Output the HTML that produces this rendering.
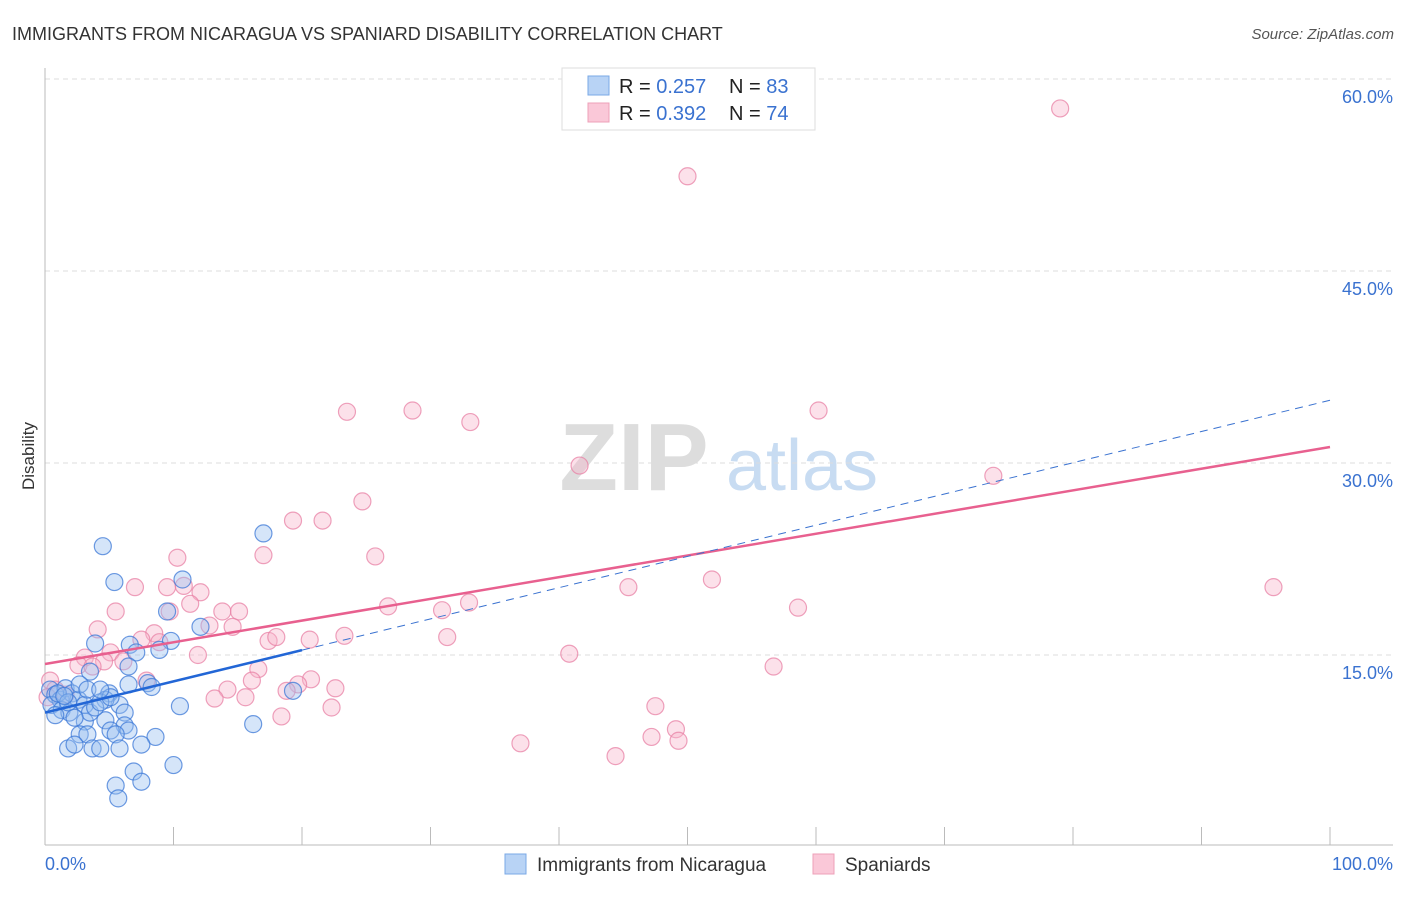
<!DOCTYPE html>
<html><head><meta charset="utf-8">
<style>
body{margin:0;background:#fff;font-family:"Liberation Sans",sans-serif;}
svg text{font-family:"Liberation Sans",sans-serif;}
</style></head>
<body>
<svg id="chart" width="1406" height="892" xmlns="http://www.w3.org/2000/svg">
<text x="12" y="40" font-size="18" fill="#333">IMMIGRANTS FROM NICARAGUA VS SPANIARD DISABILITY CORRELATION CHART</text>
<text x="1394" y="39" font-size="15" fill="#555" font-style="italic" text-anchor="end">Source: ZipAtlas.com</text>
<text x="34" y="456" font-size="17" fill="#333" text-anchor="middle" transform="rotate(-90 34 456)">Disability</text>
<g>
<text x="634" y="490" font-size="96" fill="#ddd" font-family="Liberation Serif" text-anchor="middle" font-weight="bold">ZIP</text>
<text x="802" y="490" font-size="72" fill="#c8dcf2" text-anchor="middle">atlas</text>
</g>
<g id="grid"></g>
<g id="axes"></g>
<g id="points"></g>
<g id="lines"></g>
<g>
<rect x="562" y="68" width="253" height="62" fill="#fff" stroke="#ddd"/>
<rect x="588" y="76" width="21" height="19" fill="#b8d3f5" stroke="#7aa8e6"/>
<rect x="588" y="103" width="21" height="19" fill="#fac8d8" stroke="#eea0b8"/>
<text x="619" y="93" font-size="20" fill="#222">R = <tspan fill="#3a72d0">0.257</tspan></text>
<text x="729" y="93" font-size="20" fill="#222">N = <tspan fill="#3a72d0">83</tspan></text>
<text x="619" y="120" font-size="20" fill="#222">R = <tspan fill="#3a72d0">0.392</tspan></text>
<text x="729" y="120" font-size="20" fill="#222">N = <tspan fill="#3a72d0">74</tspan></text>
</g>
<g>
<rect x="505" y="854" width="21" height="20" fill="#b8d3f5" stroke="#7aa8e6"/>
<text x="537" y="871" font-size="19" fill="#333">Immigrants from Nicaragua</text>
<rect x="813" y="854" width="21" height="20" fill="#fac8d8" stroke="#eea0b8"/>
<text x="845" y="871" font-size="19" fill="#333">Spaniards</text>
</g>
</svg>
<script>
const yTicks=[15,30,45,60];
const xTickCount=10;
const blueX=[4.5,5.4,17.0,10.7,9.5,12.1,3.9,6.6,9.8,8.9,7.1,6.5,3.5,8.0,8.3,6.5,19.3,5.0,10.5,5.8,4.7,6.2,16.2,3.1,4.7,6.2,6.5,5.1,2.7,3.3,5.5,8.6,1.8,2.3,3.7,4.3,5.8,7.5,6.9,10.0,5.5,7.5,5.7,0.4,0.8,1.2,0.5,1.6,2.1,2.6,3.1,1.3,1.9,3.5,1.0,1.8,2.7,3.9,4.3,5.1,2.3,0.8,3.3,1.5,4.3];
const blueY=[23.5,20.7,24.5,20.9,18.4,17.2,15.9,15.8,16.1,15.4,15.2,14.1,13.7,12.8,12.5,12.7,12.2,12.0,11.0,11.1,11.5,10.5,9.6,9.8,9.9,9.5,9.1,9.1,8.8,8.8,8.8,8.6,7.7,8.0,7.7,7.7,7.7,8.0,5.9,6.4,4.8,5.1,3.8,12.3,11.9,11.5,11.1,12.4,12.0,11.5,11.1,10.7,10.5,10.5,12.0,11.3,12.7,10.9,11.3,11.7,10.1,10.3,12.3,11.8,12.3];
const pinkX=[79.0,50.0,23.5,28.6,33.1,60.2,41.6,73.8,24.7,19.3,21.6,10.3,17.0,25.7,7.0,9.5,12.1,10.8,51.9,45.4,95.6,5.5,11.3,13.8,15.1,9.7,26.7,30.9,33.0,58.6,4.1,12.8,14.6,8.5,7.5,8.9,17.4,18.0,20.6,23.3,31.3,5.1,3.1,11.9,40.8,6.1,4.6,2.6,3.7,56.7,16.6,7.9,16.1,20.7,19.7,14.2,18.8,22.6,15.6,13.2,22.3,47.5,18.4,49.1,47.2,49.3,37.0,44.4,0.4,0.8,1.6,0.2];
const pinkY=[57.7,52.4,34.0,34.1,33.2,34.1,29.8,29.0,27.0,25.5,25.5,22.6,22.8,22.7,20.3,20.3,19.9,20.4,20.9,20.3,20.3,18.4,19.0,18.4,18.4,18.4,18.8,18.5,19.1,18.7,17.0,17.3,17.2,16.7,16.2,16.0,16.1,16.4,16.2,16.5,16.4,15.2,14.8,15.0,15.1,14.5,14.5,14.2,14.1,14.1,13.9,13.0,13.0,13.1,12.7,12.3,12.2,12.4,11.7,11.6,10.9,11.0,10.2,9.2,8.6,8.3,8.1,7.1,13.0,12.3,11.9,11.7];
const blueLine=[10.5,34.9];
const pinkLine=[14.3,31.25];
const blueSolidEnd=20;

const X0=45,X1=1330,Y0=847,PXPER=192/15;
const sx=v=>X0+(X1-X0)*v/100;
const sy=v=>Y0-v*PXPER;
const NS="http://www.w3.org/2000/svg";
function mk(tag,attrs,parent){const e=document.createElementNS(NS,tag);for(const k in attrs)e.setAttribute(k,attrs[k]);parent.appendChild(e);return e;}
const grid=document.getElementById('grid'),axes=document.getElementById('axes');
yTicks.forEach(t=>{
  const l=mk('line',{x1:45,x2:1393,y1:sy(t),y2:sy(t),stroke:'#ddd','stroke-dasharray':'5,4'},grid);
  
  
  const tx=mk('text',{x:1393,y:sy(t)+24,'font-size':18,fill:'#3a72d0','text-anchor':'end'},axes);
  tx.textContent=t.toFixed(1)+'%';
  
  
});
let a=mk('line',{x1:45,x2:45,y1:68,y2:845,stroke:'#bbb'},axes);


a=mk('line',{x1:45,x2:1393,y1:845,y2:845,stroke:'#bbb'},axes);


for(let i=1;i<=xTickCount;i++){
  const t=mk('line',{x1:sx(i*10),x2:sx(i*10),y1:827,y2:845,stroke:'#bbb'},axes);
  
  
}
let xl=mk('text',{x:45,y:870,'font-size':18,fill:'#3a72d0'},axes);xl.textContent='0.0%';


xl=mk('text',{x:1393,y:870,'font-size':18,fill:'#3a72d0','text-anchor':'end'},axes);xl.textContent='100.0%';


const pts=document.getElementById('points');
pinkX.forEach((v,i)=>{
  const c=mk('circle',{cx:sx(v),cy:sy(pinkY[i]),r:8.5,fill:'rgba(248,180,202,0.4)',stroke:'rgba(232,130,165,0.75)','stroke-width':1.2},pts);
  
  
});
blueX.forEach((v,i)=>{
  const c=mk('circle',{cx:sx(v),cy:sy(blueY[i]),r:8.5,fill:'rgba(150,190,240,0.4)',stroke:'rgba(60,120,215,0.75)','stroke-width':1.2},pts);
  
  
});
const ln=document.getElementById('lines');
const by=x=>blueLine[0]+(blueLine[1]-blueLine[0])*x/100;
let l=mk('line',{x1:sx(0),y1:sy(pinkLine[0]),x2:sx(100),y2:sy(pinkLine[1]),stroke:'#e8608f','stroke-width':2.5},ln);


l=mk('line',{x1:sx(blueSolidEnd),y1:sy(by(blueSolidEnd)),x2:sx(100),y2:sy(by(100)),stroke:'#3a72d0','stroke-width':1,'stroke-dasharray':'8,6'},ln);


l=mk('line',{x1:sx(0),y1:sy(by(0)),x2:sx(blueSolidEnd),y2:sy(by(blueSolidEnd)),stroke:'#2266d6','stroke-width':2.5},ln);


</script>
</body></html>
